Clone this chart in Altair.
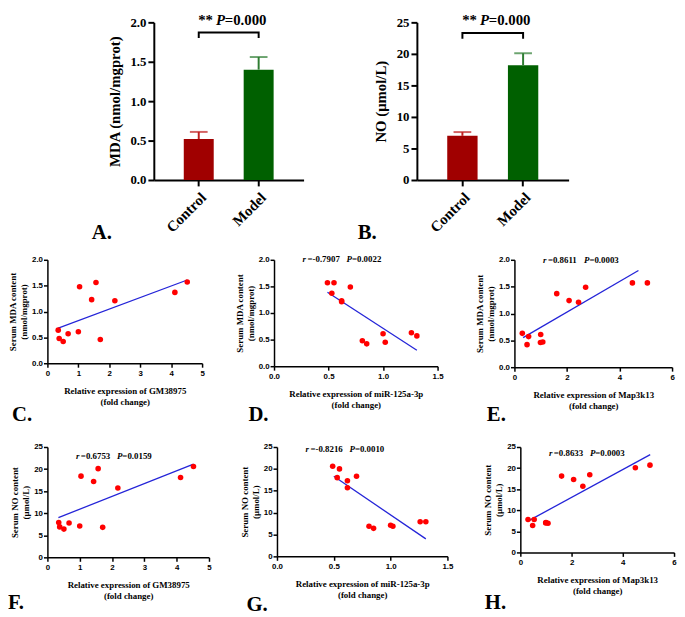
import altair as alt
import pandas as pd

SERIF = "Liberation Serif"
SANS = "Liberation Sans"
NB = "\u00a0"

# ---- bar chart data ----
groups = ["Control", "Model"]
mda_mean = [0.52, 1.40]
mda_err = [0.09, 0.16]
no_mean = [7.0, 18.2]
no_err = [0.6, 1.9]
bar_colors = ["#a00000", "#006000"]
err_colors = ["#c02020", "#2e7d32"]

# ---- scatter data ----
gm_x = [0.35, 0.38, 0.51, 0.67, 1.00, 1.04, 1.43, 1.57, 1.71, 2.18, 4.12, 4.52]
gm_mda = [0.64, 0.48, 0.42, 0.57, 0.61, 1.48, 1.23, 1.56, 0.46, 1.21, 1.37, 1.57]
gm_no = [7.9, 6.9, 6.4, 7.8, 7.1, 18.4, 17.2, 20.1, 6.8, 15.7, 18.1, 20.6]

mir_x = [0.49, 0.53, 0.55, 0.62, 0.62, 0.70, 0.81, 0.85, 1.00, 1.02, 1.26, 1.31]
mir_mda = [1.57, 1.37, 1.57, 1.23, 1.21, 1.49, 0.48, 0.42, 0.61, 0.45, 0.63, 0.57]
mir_no = [20.6, 18.0, 20.0, 17.3, 15.7, 18.3, 6.9, 6.4, 7.1, 6.9, 7.9, 7.9]

map_x = [0.30, 0.48, 0.54, 0.99, 1.00, 1.08, 1.61, 2.08, 2.44, 2.71, 4.49, 5.06]
map_mda = [0.63, 0.42, 0.57, 0.46, 0.61, 0.47, 1.37, 1.24, 1.21, 1.49, 1.57, 1.57]
map_no = [7.8, 6.4, 7.8, 7.0, 7.1, 6.9, 18.1, 17.3, 15.7, 18.4, 20.1, 20.7]

# fitted line end points
fit_c_x, fit_c_y = [0.35, 4.52], [0.68, 1.61]
fit_d_x, fit_d_y = [0.49, 1.31], [1.39, 0.30]
fit_e_x, fit_e_y = [0.33, 4.72], [0.55, 1.80]
fit_f_x, fit_f_y = [0.34, 4.52], [9.0, 21.1]
fit_g_x, fit_g_y = [0.50, 1.31], [18.3, 4.0]
fit_h_x, fit_h_y = [0.35, 5.07], [7.6, 23.2]

r_vals = [None, "-0.7907", "0.8611", "0.6753", "-0.8216", "0.8633"]
p_vals = [None, "0.0022", "0.0003", "0.0159", "0.0010", "0.0003"]

CW = {"0": .5, "1": .5, "2": .5, "3": .5, "4": .5, "5": .5, "6": .5, "7": .5, "8": .5,
      "9": .5, ".": .25, "=": .57, "-": .333, " ": .25}


def tw(s, size):
    return sum(CW.get(c, .5) for c in s) * size


def text_layer(txt, x, y, size, italic=False, align="left", font=SERIF, opacity=1.0):
    return alt.Chart(pd.DataFrame({"t": [txt.replace(" ", NB)]})).mark_text(
        align=align, baseline="middle", font=font, fontSize=size, opacity=opacity,
        fontWeight="bold", fontStyle="italic" if italic else "normal", color="black"
    ).encode(text="t:N", x=alt.value(x), y=alt.value(y))


def marker(x, y):
    # invisible anchor that fixes the panel's bounds
    return text_layer(".", x, y, 1, opacity=0)


def bar_panel(means, errs, ymax, ystep, yfmt, ytitle, brk, letter, lx, left, w, h):
    df = pd.DataFrame({"g": groups, "m": means,
                       "u": [a + b for a, b in zip(means, errs)],
                       "c": bar_colors, "ec": err_colors})
    xaxis = alt.Axis(labelAngle=-45, labelFont=SERIF, labelFontSize=15, title=None,
                     labelFontWeight="bold", labelColor="black",
                     domainColor="black", domainWidth=2, tickColor="black",
                     tickWidth=2, tickSize=6, labelPadding=4, labelOverlap=False)
    xscale = alt.Scale(paddingInner=0.5, paddingOuter=0.5)
    yscale = alt.Scale(domain=[0, ymax], nice=False)
    yaxis = alt.Axis(values=[i * ystep for i in range(int(round(ymax / ystep)) + 1)],
                     format=yfmt, title=ytitle, titleFont=SERIF, titleFontSize=15,
                     titleFontWeight="bold", titleColor="black", titlePadding=8,
                     labelFont=SERIF, labelFontSize=13, labelFontWeight="bold",
                     labelColor="black", domainColor="black", domainWidth=2,
                     tickColor="black", tickWidth=2, tickSize=6, grid=False,
                     labelOverlap=False, labelFlush=False)

    def X():
        return alt.X("g:N", sort=groups, scale=xscale, axis=xaxis, title=None)

    def Y(f):
        return alt.Y(f, scale=yscale, axis=yaxis, title=ytitle)

    bars = alt.Chart(df).mark_bar().encode(
        x=X(), y=Y("m:Q"), color=alt.Color("c:N", scale=None))
    rule = alt.Chart(df).mark_rule(strokeWidth=2).encode(
        x=X(), y=Y("m:Q"), y2="u:Q", color=alt.Color("ec:N", scale=None))
    cap = alt.Chart(df).mark_tick(thickness=2, size=18).encode(
        x=X(), y=Y("u:Q"), color=alt.Color("ec:N", scale=None))
    bdf = pd.DataFrame({"g": ["Control", "Control", "Model", "Model"],
                        "v": [brk[0], brk[1], brk[1], brk[0]], "o": [0, 1, 2, 3]})
    bracket = alt.Chart(bdf).mark_line(color="black", strokeWidth=2).encode(
        x=X(), y=Y("v:Q"), order="o:Q")
    cx = w / 2
    ty = -2
    t1 = text_layer("**", cx - 31, ty, 15)
    t2 = text_layer("P", cx - 13, ty, 15, italic=True)
    t3 = text_layer("=0.000", cx - 4, ty, 15)
    lt = text_layer(letter, lx, 214, 21)
    return alt.layer(bars, rule, cap, bracket, t1, t2, t3, lt,
                     marker(-left, -9), marker(0, 227)).properties(width=w, height=h)


def scatter_panel(xs, ys, fx, fy, xmax, xstep, xfmt, ymax, ystep, yfmt, xtitle, ytitle,
                  k, sty, letter, lpos, left, bottom, w, h):
    df = pd.DataFrame({"x": xs, "y": ys})
    fdf = pd.DataFrame({"x": fx, "y": fy})
    common = dict(domainColor="black", domainWidth=1.5, tickColor="black", tickWidth=1.5,
                  tickSize=4, labelFont=SANS, labelFontSize=8, labelFontWeight="bold",
                  labelColor="black", titleFont=SERIF, titleFontSize=9,
                  titleFontWeight="bold", titleColor="black", grid=False,
                  labelOverlap=False, labelFlush=False)
    xaxis = alt.Axis(values=[round(i * xstep, 3) for i in range(int(round(xmax / xstep)) + 1)],
                     format=xfmt, title=xtitle, titlePadding=10, labelPadding=2, **common)
    yaxis = alt.Axis(values=[round(i * ystep, 3) for i in range(int(round(ymax / ystep)) + 1)],
                     format=yfmt, title=ytitle, titlePadding=3, labelPadding=1, **common)
    xscale = alt.Scale(domain=[0, xmax], nice=False)
    yscale = alt.Scale(domain=[0, ymax], nice=False)

    def enc():
        return dict(x=alt.X("x:Q", scale=xscale, axis=xaxis, title=xtitle),
                    y=alt.Y("y:Q", scale=yscale, axis=yaxis, title=ytitle))

    line = alt.Chart(fdf).mark_line(color="#2424d8", strokeWidth=1.3).encode(**enc())
    pts = alt.Chart(df).mark_circle(color="#ff0000", size=32, opacity=1).encode(**enc())
    layers = [line, pts]
    if r_vals[k]:
        fs = 9
        x0 = 29
        rv = " =" + r_vals[k] + "  "
        layers.append(text_layer("r", x0, sty, fs, italic=True))
        x1 = x0 + 0.55 * fs
        layers.append(text_layer(rv, x1, sty, fs))
        x2 = x1 + tw(rv, fs)
        layers.append(text_layer("P", x2, sty, fs, italic=True))
        x3 = x2 + 0.61 * fs
        layers.append(text_layer("=" + p_vals[k], x3, sty, fs))
    layers.append(text_layer(letter, lpos[0], lpos[1], 21))
    layers.append(marker(-left, -8))
    layers.append(marker(0, bottom))
    return alt.layer(*layers).properties(width=w, height=h)


A = bar_panel(mda_mean, mda_err, 2.0, 0.5, ".1f", "MDA (nmol/mgprot)", [1.80, 1.87], "A.",
              -63, 70, 152, 160)
B = bar_panel(no_mean, no_err, 25, 5, "d", "NO (μmol/L)", [22.4, 23.3], "B.",
              -60, 105, 154, 160)

mda_t = ["Serum MDA content", "(nmol/mgprot)"]
no_t = ["Serum NO content", "(μmol/L)"]
gm_t = ["Relative expression of GM38975", "(fold change)"]
mir_t = ["Relative expression of miR-125a-3p", "(fold change)"]
map_t = ["Relative expression of Map3k13", "(fold change)"]

C = scatter_panel(gm_x, gm_mda, fit_c_x, fit_c_y, 5, 1, "d", 2.0, 0.5, ".1f",
                  gm_t, mda_t, 0, 0, "C.", (-36, 158), 37, 176, 157, 105)
D = scatter_panel(mir_x, mir_mda, fit_d_x, fit_d_y, 1.5, 0.5, ".1f", 2.0, 0.5, ".1f",
                  mir_t, mda_t, 1, -1, "D.", (-26, 158), 60, 176, 166, 108)
E = scatter_panel(map_x, map_mda, fit_e_x, fit_e_y, 6, 2, "d", 2.0, 0.5, ".1f",
                  map_t, mda_t, 2, 0, "E.", (-28, 158), 62, 176, 160, 109)
F = scatter_panel(gm_x, gm_no, fit_f_x, fit_f_y, 5, 1, "d", 25, 5, "d",
                  gm_t, no_t, 3, 9, "F.", (-40, 158), 37, 150, 164, 112)
G = scatter_panel(mir_x, mir_no, fit_g_x, fit_g_y, 1.5, 0.5, ".1f", 25, 5, "d",
                  mir_t, no_t, 4, 2, "G.", (-31, 160), 56, 150, 173, 111)
H = scatter_panel(map_x, map_no, fit_h_x, fit_h_y, 6, 2, "d", 25, 5, "d",
                  map_t, no_t, 5, 6, "H.", (-36, 158), 58, 150, 156, 107)

spacer = alt.Chart(pd.DataFrame({"a": [0]})).mark_point(opacity=0).encode(
    x=alt.value(0), y=alt.value(0)).properties(width=28, height=10)

row1 = alt.hconcat(spacer, A, B, spacing=10)
row2 = alt.hconcat(C, D, E, spacing=10)
row3 = alt.hconcat(F, G, H, spacing=10)

chart = alt.vconcat(row1, row2, row3, spacing=5).properties(padding=0).configure_view(
    strokeOpacity=0)

chart.save("out.html", embed_options={"renderer": "svg", "actions": False})
